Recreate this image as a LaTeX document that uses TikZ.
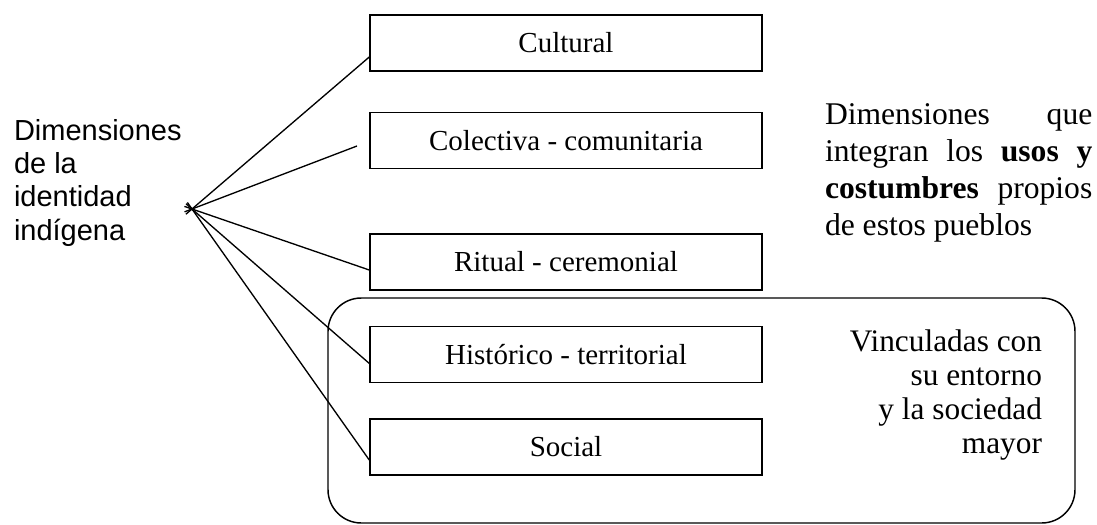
\documentclass[tikz,border=0pt]{standalone}
\usepackage{fontspec}
\setmainfont{Liberation Serif}
\newfontfamily\arialfont{Liberation Sans}
\usetikzlibrary{calc}
\begin{document}
\begin{tikzpicture}[x=0.75pt,y=-0.75pt,
  dimbox/.style={draw,line width=1.1pt,minimum width=294pt,minimum height=42pt,inner sep=0pt,
    font=\fontsize{21.75}{26}\selectfont},
  link/.style={line width=1pt,shorten <=-6pt},
  plain/.style={inner sep=0pt,outer sep=0pt}]
\useasboundingbox (0,0) rectangle (1097,525);
% group frame
\draw[line width=1.1pt,rounded corners=25pt] (328,298) rectangle (1075,523);
% boxes
\node[dimbox] (cult) at (566,43) {Cultural};
\node[dimbox] (cole) at (566,140.7) {Colectiva - comunitaria};
\node[dimbox] (ritu) at (566,262) {Ritual - ceremonial};
\node[dimbox] (hist) at (566,354.4) {Histórico - territorial};
\node[dimbox] (soci) at (566,447) {Social};
% hub
\coordinate (hub) at (192,209);
\coordinate (coleend) at (357,146);
\draw[link] (hub) -- ($(cult.west)+(0,14)$);
\draw[link] (hub) -- (coleend);
\draw[link] (hub) -- ($(ritu.west)+(0,8)$);
\draw[link] (hub) -- ($(hist.west)+(0,9)$);
\draw[link] (hub) -- ($(soci.west)+(0,13)$);
% left label
\node[plain,anchor=north west,align=left,font=\arialfont\fontsize{21.75}{25.1}\selectfont] (title) at (14,119)
  {Dimensiones\\de la\\identidad\\indígena};
% right text
\node[plain,anchor=north west,align=left,font=\fontsize{23.7}{27.75}\selectfont] (usos) at (825,103.2)
  {\hbox to 200.5pt{Dimensiones\hfill que}\\
   \hbox to 200.5pt{integran\hfill los\hfill \textbf{usos}\hfill \textbf{y}}\\
   \hbox to 200.5pt{\textbf{costumbres}\hfill propios}\\
   de estos pueblos};
% group text
\node[plain,anchor=north east,align=right,font=\fontsize{23.5}{25.5}\selectfont] (vinc) at (1042,329.5)
  {Vinculadas con\\su entorno\\y la sociedad\\mayor};
\end{tikzpicture}
\end{document}
